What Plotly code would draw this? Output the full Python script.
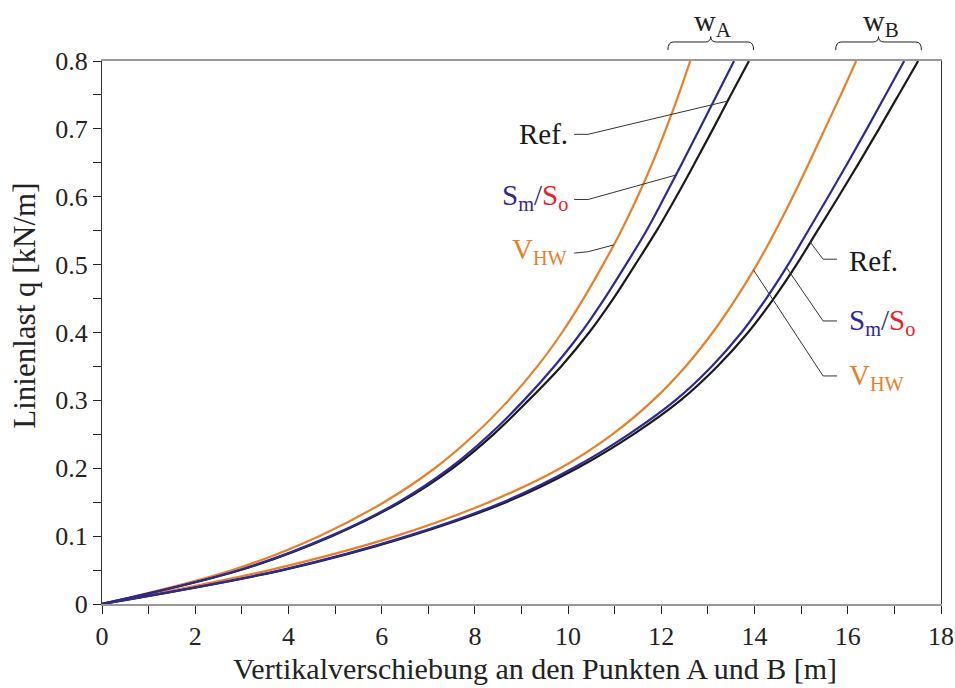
import numpy as np
import plotly.graph_objects as go

# ---------------- data ----------------
q = [0.0, 0.05, 0.10, 0.15, 0.20, 0.25, 0.30, 0.35, 0.40, 0.45, 0.50,
     0.55, 0.60, 0.65, 0.70, 0.75, 0.80]

# Point A
vhw_A = [0.0, 2.80, 4.66, 6.05, 7.14, 8.00, 8.72, 9.34, 9.87, 10.33, 10.75,
         11.14, 11.49, 11.81, 12.10, 12.37, 12.62]
smso_A = [0.0, 2.95, 4.90, 6.36, 7.46, 8.32, 9.05, 9.70, 10.28, 10.78, 11.24,
          11.68, 12.07, 12.45, 12.82, 13.19, 13.56]
ref_A = [0.0, 2.97, 4.93, 6.40, 7.52, 8.40, 9.15, 9.85, 10.45, 10.97, 11.44,
         11.90, 12.32, 12.72, 13.11, 13.49, 13.88]

# Point B
vhw_B = [0.0, 3.60, 6.30, 8.30, 9.83, 10.95, 11.82, 12.52, 13.10, 13.60, 14.05,
         14.45, 14.82, 15.17, 15.51, 15.85, 16.18]
smso_B = [0.0, 3.85, 6.55, 8.60, 10.10, 11.30, 12.30, 13.08, 13.72, 14.25, 14.72,
          15.15, 15.58, 16.00, 16.41, 16.81, 17.21]
ref_B = [0.0, 3.88, 6.60, 8.67, 10.19, 11.40, 12.41, 13.20, 13.86, 14.41, 14.90,
         15.35, 15.80, 16.24, 16.67, 17.09, 17.51]

x_ticks = [0, 2, 4, 6, 8, 10, 12, 14, 16, 18]
y_ticks = [0, 0.1, 0.2, 0.3, 0.4, 0.5, 0.6, 0.7, 0.8]

# ---------------- styles ----------------
ORANGE = "#E5802A"
BLUE = "#2E2A8E"
RED = "#EC1C2A"
BLACK = "#1A1A1A"
TXT = "#222222"
FONT = "Liberation Serif"
FS_TICK = 26
FS_LBL = 29

fig = go.Figure()

for xs, col in [(vhw_A, ORANGE), (vhw_B, ORANGE), (ref_A, BLACK), (ref_B, BLACK),
                (smso_A, BLUE), (smso_B, BLUE)]:
    fig.add_trace(go.Scatter(x=xs, y=q, mode="lines",
                             line=dict(color=col, width=2.2, shape="spline", smoothing=1.0),
                             showlegend=False, hoverinfo="skip"))

# ---------------- labels with leader lines ----------------
def on_curve(qv, xs):
    return float(np.interp(qv, q, xs))

def leader(x0, y0, xk, yk, qv, xs):
    xe = on_curve(qv, xs)
    fig.add_shape(type="path",
                  path=f"M {x0},{y0} L {xk},{yk} L {xe},{qv}",
                  xref="x", yref="y", line=dict(color="#333333", width=1))

sm_so = (f'<span style="color:{BLUE}">S<sub>m</sub></span>'
         f'<span style="color:#333366">/</span>'
         f'<span style="color:{RED}">S<sub>o</sub></span>')
v_hw = f'<span style="color:{ORANGE}">V<sub>HW</sub></span>'

# left group (curves A)
left_labels = [("Ref.", 0.692, BLACK), (sm_so, 0.600, BLACK), (v_hw, 0.520, ORANGE)]
for txt, yv, col in left_labels:
    fig.add_annotation(x=10.03, y=yv, xref="x", yref="y", text=txt, showarrow=False,
                       xanchor="right", yanchor="middle",
                       font=dict(family=FONT, size=FS_LBL, color=col))
leader(10.13, 0.692, 10.43, 0.692, 0.741, ref_A)
leader(10.13, 0.596, 10.43, 0.596, 0.632, smso_A)
leader(10.13, 0.517, 10.43, 0.519, 0.529, vhw_A)

# right group (curves B)
right_labels = [("Ref.", 0.506, BLACK), (sm_so, 0.416, BLACK), (v_hw, 0.334, ORANGE)]
for txt, yv, col in right_labels:
    fig.add_annotation(x=15.99, y=yv, xref="x", yref="y", text=txt, showarrow=False,
                       xanchor="left", yanchor="middle",
                       font=dict(family=FONT, size=FS_LBL, color=col))
leader(15.77, 0.508, 15.47, 0.508, 0.533, ref_B)
leader(15.77, 0.417, 15.47, 0.417, 0.496, smso_B)
leader(15.77, 0.336, 15.47, 0.336, 0.492, vhw_B)

# ---------------- braces for w_A and w_B ----------------
def brace(xl, xr, name):
    xc = (xl + xr) / 2
    r = 0.12
    yb, ym, yt = 1.020, 1.035, 1.045
    path = (f"M {xl},{yb} Q {xl},{ym} {xl + r},{ym} L {xc - r},{ym} "
            f"Q {xc},{ym} {xc},{yt} Q {xc},{ym} {xc + r},{ym} "
            f"L {xr - r},{ym} Q {xr},{ym} {xr},{yb}")
    fig.add_shape(type="path", path=path, xref="x", yref="paper",
                  line=dict(color=TXT, width=1))
    fig.add_annotation(x=xc + 0.05, y=1.070, xref="x", yref="paper", text=name,
                       showarrow=False, yanchor="middle", xanchor="center",
                       font=dict(family=FONT, size=30, color=TXT))

brace(12.14, 13.98, "w<sub>A</sub>")
brace(15.74, 17.58, "w<sub>B</sub>")

# ---------------- axis titles ----------------
fig.add_annotation(x=0.516, y=-0.118, xref="paper", yref="paper",
                   text="Vertikalverschiebung an den Punkten A und B [m]",
                   showarrow=False, xanchor="center", yanchor="middle",
                   font=dict(family=FONT, size=30, color=TXT))
fig.add_annotation(x=-0.092, y=0.549, xref="paper", yref="paper",
                   text="Linienlast q [kN/m]", textangle=-90,
                   showarrow=False, xanchor="center", yanchor="middle",
                   font=dict(family=FONT, size=31, color=TXT))

fig.update_layout(
    width=955, height=688,
    margin=dict(l=102, r=14, t=61, b=84, autoexpand=False),
    paper_bgcolor="white", plot_bgcolor="white",
    font=dict(family=FONT, size=FS_TICK, color=TXT),
    xaxis=dict(range=[0, 18], tickvals=x_ticks, ticktext=[str(v) for v in x_ticks],
               ticks="outside", ticklen=8, tickwidth=1, tickcolor=TXT,
               minor=dict(dtick=1, ticks="outside", ticklen=8, tickwidth=1, tickcolor=TXT),
               showline=True, linecolor="#999999", linewidth=2, mirror=True,
               showgrid=False, zeroline=False, automargin=False,
               tickfont=dict(family=FONT, size=FS_TICK, color=TXT)),
    yaxis=dict(range=[0, 0.8], tickvals=y_ticks, ticktext=[f"{v:g}" for v in y_ticks],
               ticks="outside", ticklen=8, tickwidth=1, tickcolor=TXT,
               minor=dict(dtick=0.05, ticks="outside", ticklen=8, tickwidth=1, tickcolor=TXT),
               showline=True, linecolor="#333333", linewidth=1.2, mirror=True,
               showgrid=False, zeroline=False, automargin=False,
               tickfont=dict(family=FONT, size=FS_TICK, color=TXT)),
)

fig.write_html("out.html")
